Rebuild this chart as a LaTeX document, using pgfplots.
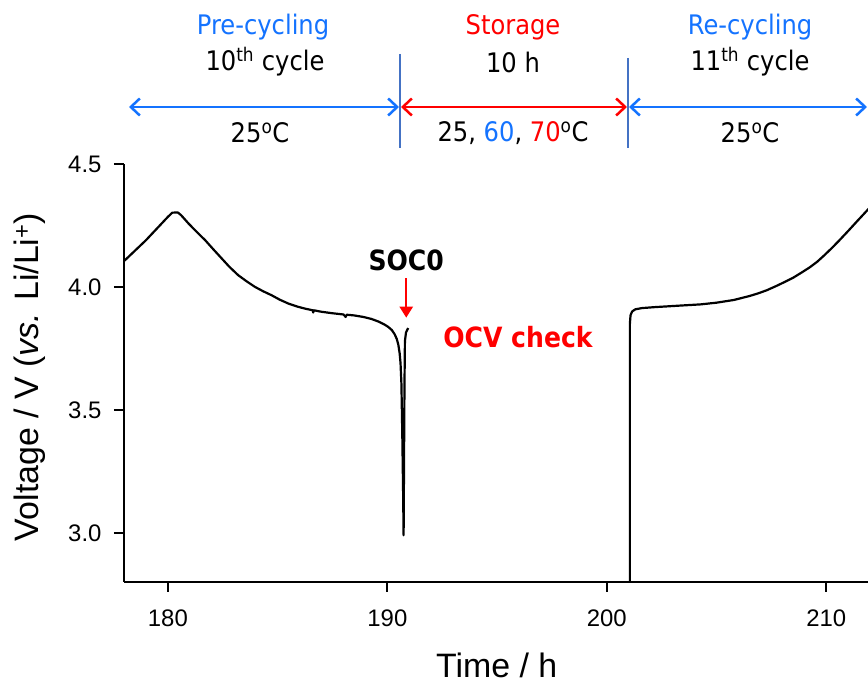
\documentclass[border=0pt]{standalone}
\usepackage{pgfplots}
\pgfplotsset{compat=1.18}
\usetikzlibrary{arrows.meta}
\usepackage{fontspec}
\setmainfont{Liberation Sans}
\newfontfamily\tfont[FakeStretch=0.9]{DejaVu Sans}
\definecolor{myblue}{RGB}{20,115,255}
\definecolor{myred}{RGB}{255,0,0}
\definecolor{sepblue}{RGB}{68,114,196}

\pgfplotstableread{
t V
178.0 4.105
179.0 4.190
180.0 4.285
180.2 4.302
180.45 4.303
180.6 4.292
180.94 4.258
181.3 4.225
181.7 4.190
182.05 4.155
182.45 4.116
182.8 4.082
183.2 4.048
183.6 4.022
183.97 4.000
184.35 3.982
184.73 3.966
185.1 3.948
185.5 3.932
185.9 3.920
186.24 3.912
186.6 3.905
186.62 3.896
186.65 3.905
187.0 3.899
187.5 3.893
188.0 3.888
188.1 3.878
188.15 3.887
188.5 3.884
188.9 3.878
189.27 3.870
189.6 3.859
189.85 3.848
190.03 3.838
190.2 3.825
190.33 3.808
190.43 3.788
190.5 3.765
190.56 3.730
190.6 3.690
190.64 3.607
190.68 3.400
190.72 3.150
190.74 2.990
190.76 3.300
190.78 3.600
190.80 3.780
190.85 3.815
190.95 3.833
}\precycle

\pgfplotstableread{
t V
201.05 2.000
201.05 3.850
201.08 3.885
201.15 3.900
201.3 3.909
201.6 3.914
202.2 3.918
202.76 3.921
203.5 3.925
204.27 3.929
205.0 3.936
205.79 3.947
206.5 3.963
206.9 3.974
207.3 3.987
207.7 4.003
208.1 4.020
208.5 4.038
208.9 4.060
209.25 4.080
209.58 4.102
209.9 4.128
210.25 4.158
210.6 4.190
211.0 4.228
211.4 4.267
211.9 4.315
212.2 4.340
}\recycle

\begin{document}
\begin{tikzpicture}
\useasboundingbox (-124bp,-103bp) rectangle (744bp,582bp);
\begin{axis}[
  at={(0,0)}, anchor=south west,
  scale only axis, width=744bp, height=418bp,
  xmin=178, xmax=211.9, ymin=2.8, ymax=4.5,
  clip mode=individual,
  axis lines*=left,
  axis line style={line width=2bp, black},
  xtick={180,190,200,210}, ytick={3,3.5,4,4.5},
  xtick align=outside, ytick align=outside,
  xtick pos=bottom, ytick pos=left,
  major tick length=10bp,
  xtick style={line width=2bp, black},
  ytick style={line width=2bp, black},
  minor tick num=0,
  ticklabel style={font=\fontsize{24}{28}\selectfont},
  /pgf/number format/assume math mode=true,
  yticklabel style={xshift=-9bp, /pgf/number format/fixed, /pgf/number format/fixed zerofill, /pgf/number format/precision=1},
  xticklabel style={yshift=-14bp},
  xlabel={Time / h},
  ylabel={Voltage / V (\textit{vs.} Li/Li\textsuperscript{+})},
  label style={font=\fontsize{34}{40}\selectfont},
  xlabel style={at={(axis description cs:0.501,-0.199)}, anchor=center},
  ylabel style={at={(axis description cs:-0.1263,0.4904)}, anchor=center},
]
\addplot[line width=2.2bp, black, line join=round] table[x=t, y=V] {\precycle};
\addplot[line width=2.2bp, black, line join=round] table[x=t, y=V] {\recycle};
\foreach \xt in {180,190,200,210} {
  \edef\tmp{\noexpand\draw[line width=2bp, black] (axis cs:\xt,2.8) -- ([yshift=-10bp]axis cs:\xt,2.8);}\tmp
}
\foreach \yt in {3,3.5,4,4.5} {
  \edef\tmp{\noexpand\draw[line width=2bp, black] (axis cs:178,\yt) -- ([xshift=-10bp]axis cs:178,\yt);}\tmp
}
\node[font=\tfont\bfseries\fontsize{28}{32}\selectfont, anchor=center] at (axis cs:190.86,4.109) {SOC0};
\draw[myred, line width=2.5bp, -{Triangle[length=11bp,width=13bp]}] (axis cs:190.86,4.035) -- (axis cs:190.86,3.875);
\node[font=\tfont\bfseries\fontsize{28}{32}\selectfont, text=myred, anchor=center] at (axis cs:195.95,3.795) {OCV check};
\end{axis}
\begin{scope}[shift={(-124bp,582bp)}, x=1bp, y=-1bp]
  \tikzset{toptext/.style={font=\tfont\fontsize{27}{32}\selectfont, anchor=center, inner sep=0pt}}
  \node[toptext, text=myblue] at (263,27) {Pre-cycling};
  \node[toptext] at (265,62) {10\textsuperscript{th} cycle};
  \node[toptext, text=myred] at (513,27) {Storage};
  \node[toptext] at (513,62) {10 h};
  \node[toptext, text=myblue] at (750,27) {Re-cycling};
  \node[toptext] at (750,62) {11\textsuperscript{th} cycle};
  \node[toptext] at (260,133) {25\textsuperscript{o}C};
  \node[toptext] at (513,133) {25, \textcolor{myblue}{60}, \textcolor{myred}{70}\textsuperscript{o}C};
  \node[toptext] at (750,133) {25\textsuperscript{o}C};
  \draw[sepblue, line width=1.1bp] (400,54) -- (400,148);
  \draw[sepblue, line width=1.1bp] (628,58) -- (628,148);
  \draw[myblue, line width=2.5bp, {Straight Barb[length=9bp,width=17bp]}-{Straight Barb[length=9bp,width=17bp]}] (129,107) -- (399,107);
  \draw[myred, line width=2.5bp, {Straight Barb[length=9bp,width=17bp]}-{Straight Barb[length=9bp,width=17bp]}] (401,107) -- (627,107);
  \draw[myblue, line width=2.5bp, {Straight Barb[length=9bp,width=17bp]}-{Straight Barb[length=9bp,width=17bp]}] (629,107) -- (867,107);
\end{scope}
\end{tikzpicture}
\end{document}
